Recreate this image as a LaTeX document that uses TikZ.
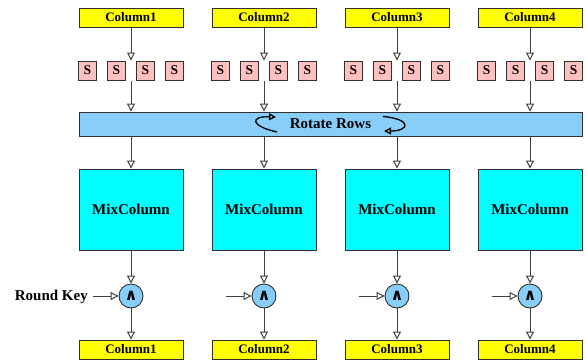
\documentclass[tikz,border=0pt]{standalone}
\usepackage{fontspec}
\setmainfont{Liberation Serif}
\newfontfamily\symfnt{DejaVu Sans}
\usetikzlibrary{arrows.meta}
\definecolor{lineg}{HTML}{404040}
\definecolor{bordc}{HTML}{303030}
\definecolor{spink}{HTML}{FFC0C0}
\definecolor{skyb}{HTML}{87CEFA}
\definecolor{cyanf}{HTML}{00FFFF}
\definecolor{yellf}{HTML}{FFFF00}
\tikzset{
 colbox/.style={draw=bordc, line width=0.9pt, fill=yellf, minimum width=104pt, minimum height=19pt, inner sep=0pt, font=\fontsize{13}{15}\selectfont\bfseries},
 sqbox/.style={draw=bordc, line width=0.9pt, fill=spink, minimum width=18pt, minimum height=19pt, inner sep=0pt, font=\fontsize{13.5}{15}\selectfont\bfseries},
 barbox/.style={draw=bordc, line width=0.9pt, fill=skyb, minimum width=503pt, minimum height=24pt, inner sep=0pt, text depth=0pt, font=\fontsize{15}{17}\selectfont\bfseries},
 mixbox/.style={draw=bordc, line width=0.9pt, fill=cyanf, minimum width=104pt, minimum height=81pt, inner sep=0pt, font=\fontsize{15}{17}\selectfont\bfseries},
 xorc/.style={circle, draw=bordc, line width=0.9pt, fill=skyb, minimum size=24pt, inner sep=0pt, font=\symfnt\bfseries\fontsize{16}{18}\selectfont},
 conn/.style={draw=lineg, line width=1pt, -{Triangle[open,width=8pt,length=8pt]}},
 rotarrow/.style={draw=black, line width=1.3pt, -{Triangle[open,width=7pt,length=7pt]}},
 lbl/.style={font=\fontsize{15}{17}\selectfont\bfseries, inner sep=0pt}
}
\begin{document}
\begin{tikzpicture}[x=1pt,y=-1pt]
\useasboundingbox (0,0) rectangle (587,360);
\node[barbox] (bar) at (330.5,124) {Rotate Rows};
\node[colbox] (cta) at (131,17.5) {Column1};
\node[colbox] (ctb) at (264,17.5) {Column2};
\node[colbox] (ctc) at (397,17.5) {Column3};
\node[colbox] (ctd) at (530,17.5) {Column4};
\node[sqbox] (sa1) at (87.5,70.5) {S};
\node[sqbox] (sa2) at (116.5,70.5) {S};
\node[sqbox] (sa3) at (145.5,70.5) {S};
\node[sqbox] (sa4) at (174.5,70.5) {S};
\node[sqbox] (sb1) at (220.5,70.5) {S};
\node[sqbox] (sb2) at (249.5,70.5) {S};
\node[sqbox] (sb3) at (278.5,70.5) {S};
\node[sqbox] (sb4) at (307.5,70.5) {S};
\node[sqbox] (sc1) at (353.5,70.5) {S};
\node[sqbox] (sc2) at (382.5,70.5) {S};
\node[sqbox] (sc3) at (411.5,70.5) {S};
\node[sqbox] (sc4) at (440.5,70.5) {S};
\node[sqbox] (sd1) at (486.5,70.5) {S};
\node[sqbox] (sd2) at (515.5,70.5) {S};
\node[sqbox] (sd3) at (544.5,70.5) {S};
\node[sqbox] (sd4) at (573.5,70.5) {S};
\node[mixbox] (mixa) at (131,209.5) {MixColumn};
\node[mixbox] (mixb) at (264,209.5) {MixColumn};
\node[mixbox] (mixc) at (397,209.5) {MixColumn};
\node[mixbox] (mixd) at (530,209.5) {MixColumn};
\node[xorc] (xora) at (131,296) {∧};
\node[xorc] (xorb) at (264,296) {∧};
\node[xorc] (xorc) at (397,296) {∧};
\node[xorc] (xord) at (530,296) {∧};
\node[colbox] (cba) at (131,349.5) {Column1};
\node[colbox] (cbb) at (264,349.5) {Column2};
\node[colbox] (cbc) at (397,349.5) {Column3};
\node[colbox] (cbd) at (530,349.5) {Column4};
\node[lbl, anchor=east] (rk) at (88,297) {Round Key};
\coordinate (gaa) at (131,60.5);
\coordinate (gab) at (264,60.5);
\coordinate (gac) at (397,60.5);
\coordinate (gad) at (530,60.5);
\coordinate (gba) at (131,80.5);
\coordinate (gbb) at (264,80.5);
\coordinate (gbc) at (397,80.5);
\coordinate (gbd) at (530,80.5);
\coordinate (ka) at (93,296);
\coordinate (kb) at (226,296);
\coordinate (kc) at (359,296);
\coordinate (kd) at (492,296);
\draw[conn] (cta) -- (gaa);
\draw[conn] (ctb) -- (gab);
\draw[conn] (ctc) -- (gac);
\draw[conn] (ctd) -- (gad);
\draw[conn] (gba) -- (gba |- bar.north);
\draw[conn] (gbb) -- (gbb |- bar.north);
\draw[conn] (gbc) -- (gbc |- bar.north);
\draw[conn] (gbd) -- (gbd |- bar.north);
\draw[conn] (bar.south -| mixa) -- (mixa);
\draw[conn] (bar.south -| mixb) -- (mixb);
\draw[conn] (bar.south -| mixc) -- (mixc);
\draw[conn] (bar.south -| mixd) -- (mixd);
\draw[conn] (mixa) -- (xora);
\draw[conn] (mixb) -- (xorb);
\draw[conn] (mixc) -- (xorc);
\draw[conn] (mixd) -- (xord);
\draw[conn] (xora) -- (cba);
\draw[conn] (xorb) -- (cbb);
\draw[conn] (xorc) -- (cbc);
\draw[conn] (xord) -- (cbd);
\draw[conn] (ka) -- (xora);
\draw[conn] (kb) -- (xorb);
\draw[conn] (kc) -- (xorc);
\draw[conn] (kd) -- (xord);
\draw[rotarrow] (277,132) .. controls (250,126) and (250,116) .. (276,117);
\draw[rotarrow] (383,116.5) .. controls (412,119) and (410,131) .. (384,131);
\end{tikzpicture}
\end{document}
